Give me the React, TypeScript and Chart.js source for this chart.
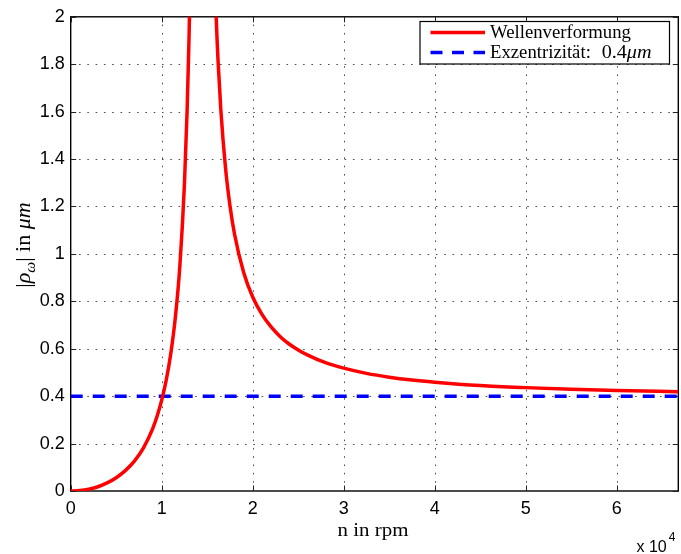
import React, { useEffect, useRef } from "react";
import { Chart, registerables } from "chart.js";

Chart.register(...registerables);

// ---- data ----
const nRpm: number[] = [
  0, 1000, 2000, 3000, 4000, 5000, 6000, 7000, 8000, 9000, 9500, 10000, 10500,
  11000, 11500, 12000, 12500, 12800, 13000, 13200, 13500, 13800, 14300, 14800,
  15200, 15600, 16000, 16200, 16500, 17000, 17500, 18000, 19000, 20000, 21000,
  22000, 23000, 24000, 25000, 26000, 28000, 30000, 32500, 35000, 37500, 40000,
  45000, 50000, 55000, 60000, 66770,
];
const rhoAmplitude: (number | null)[] = [
  0, 0.002, 0.008, 0.018, 0.034, 0.056, 0.086, 0.126, 0.182, 0.262, 0.316, 0.383,
  0.468, 0.58, 0.732, 0.952, 1.296, 1.612, 1.905, 2.304, 3.278, 5.42, null, 6.02,
  3.481, 2.504, 1.988, 1.81, 1.607, 1.368, 1.204, 1.084, 0.923, 0.818, 0.746,
  0.693, 0.652, 0.62, 0.595, 0.574, 0.541, 0.518, 0.496, 0.48, 0.468, 0.459,
  0.445, 0.436, 0.429, 0.424, 0.419,
];
const eccentricityX: number[] = [0, 66770];
const eccentricityY: number[] = [0.4, 0.4];

const xTickValues: number[] = [0, 10000, 20000, 30000, 40000, 50000, 60000];
const xTickLabels: string[] = ["0", "1", "2", "3", "4", "5", "6"];
const yTickValues: number[] = [0, 0.2, 0.4, 0.6, 0.8, 1, 1.2, 1.4, 1.6, 1.8, 2];
const yTickLabels: string[] = ["0", "0.2", "0.4", "0.6", "0.8", "1", "1.2", "1.4", "1.6", "1.8", "2"];

const legendLabels: string[] = ["Wellenverformung", "Exzentrizität:", "0.4", "μm"];
const xTitle = "n in rpm";
const xExponent = "4";

const SERIF = "'Liberation Serif', 'Times New Roman', serif";
const SANS = "'Liberation Sans', Arial, sans-serif";

type Part = { t: string; italic?: boolean; sub?: boolean };

function drawParts(
  ctx: CanvasRenderingContext2D,
  parts: Part[],
  size: number,
  x: number,
  y: number,
  measureOnly = false
): number {
  let cx = x;
  for (const p of parts) {
    const s = p.sub ? size * 0.7 : size;
    ctx.font = `${p.italic ? "italic " : ""}${s}px ${SERIF}`;
    const w = ctx.measureText(p.t).width;
    if (!measureOnly) ctx.fillText(p.t, cx, y + (p.sub ? size * 0.25 : 0));
    cx += w;
  }
  return cx - x;
}

function drawStretched(
  ctx: CanvasRenderingContext2D,
  parts: Part[],
  size: number,
  stretch: number,
  x: number,
  y: number
): number {
  ctx.save();
  ctx.translate(x, y);
  ctx.scale(stretch, 1);
  const w = drawParts(ctx, parts, size, 0, 0);
  ctx.restore();
  return w * stretch;
}

const framePlugin = {
  id: "matlabFrame",
  beforeDatasetsDraw(chart: any) {
    const { ctx, chartArea: a, scales } = chart;
    const x = scales.x;
    const y = scales.y;
    ctx.save();
    // dotted grid
    ctx.strokeStyle = "#4d4d4d";
    ctx.lineWidth = 1;
    ctx.setLineDash([1.6, 6.7]);
    for (const v of xTickValues) {
      const px = Math.round(x.getPixelForValue(v)) + 0.5;
      if (px <= a.left + 2 || px >= a.right - 2) continue;
      ctx.beginPath();
      ctx.moveTo(px, a.bottom);
      ctx.lineTo(px, a.top);
      ctx.stroke();
    }
    for (const v of yTickValues) {
      const py = Math.round(y.getPixelForValue(v)) + 0.5;
      if (py <= a.top + 2 || py >= a.bottom - 2) continue;
      ctx.beginPath();
      ctx.moveTo(a.left, py);
      ctx.lineTo(a.right, py);
      ctx.stroke();
    }
    ctx.setLineDash([]);
    // box
    ctx.strokeStyle = "#000";
    ctx.lineWidth = 1.4;
    ctx.strokeRect(a.left, a.top, a.right - a.left, a.bottom - a.top);
    // inward tick marks
    const tl = 5.5;
    ctx.lineWidth = 1;
    ctx.strokeStyle = "#222";
    for (const v of xTickValues) {
      const px = Math.round(x.getPixelForValue(v)) + 0.5;
      ctx.beginPath();
      ctx.moveTo(px, a.bottom);
      ctx.lineTo(px, a.bottom - tl);
      ctx.moveTo(px, a.top);
      ctx.lineTo(px, a.top + tl);
      ctx.stroke();
    }
    for (const v of yTickValues) {
      const py = Math.round(y.getPixelForValue(v)) + 0.5;
      ctx.beginPath();
      ctx.moveTo(a.left, py);
      ctx.lineTo(a.left + tl, py);
      ctx.moveTo(a.right, py);
      ctx.lineTo(a.right - tl, py);
      ctx.stroke();
    }
    ctx.restore();
  },
  afterDraw(chart: any) {
    const { ctx, chartArea: a } = chart;
    ctx.save();
    ctx.fillStyle = "#000";
    ctx.textBaseline = "alphabetic";
    ctx.textAlign = "left";

    // x-axis title
    {
      const parts: Part[] = [{ t: xTitle }];
      const size = 19;
      const stretch = 1.1;
      const w = drawParts(ctx, parts, size, 0, 0, true) * stretch;
      const cx = (a.left + a.right) / 2 - 1.5;
      drawStretched(ctx, parts, size, stretch, cx - w / 2, 535.5);
    }

    // y-axis title  |ρ_ω| in μm
    {
      const parts: Part[] = [
        { t: "|" },
        { t: "ρ", italic: true },
        { t: "ω", italic: true, sub: true },
        { t: "| in " },
        { t: "μm", italic: true },
      ];
      const size = 20;
      const stretch = 1.1;
      const w = drawParts(ctx, parts, size, 0, 0, true) * stretch;
      ctx.save();
      ctx.translate(30, 245 + w / 2);
      ctx.rotate(-Math.PI / 2);
      ctx.scale(stretch, 1);
      drawParts(ctx, parts, size, 0, 0);
      ctx.restore();
    }

    // x 10^4 exponent label
    ctx.font = `16px ${SANS}`;
    ctx.fillText("x 10", 636.5, 552);
    const w10 = ctx.measureText("x 10").width;
    ctx.font = `12px ${SANS}`;
    ctx.fillText(xExponent, 636.5 + w10 + 2, 540.5);

    // legend
    const bx = 420, by = 21.5, bw = 249.5, bh = 42.5;
    ctx.fillStyle = "#fff";
    ctx.fillRect(bx, by, bw, bh);
    ctx.strokeStyle = "#000";
    ctx.lineWidth = 1.2;
    ctx.strokeRect(bx, by, bw, bh);
    ctx.lineWidth = 3.5;
    ctx.strokeStyle = "#ff0000";
    ctx.beginPath();
    ctx.moveTo(430.5, 32.5);
    ctx.lineTo(485, 32.5);
    ctx.stroke();
    ctx.strokeStyle = "#0000ff";
    ctx.setLineDash([12, 9.5]);
    ctx.beginPath();
    ctx.moveTo(430.5, 52.5);
    ctx.lineTo(485, 52.5);
    ctx.stroke();
    ctx.setLineDash([]);
    ctx.fillStyle = "#000";
    const lSize = 18;
    const lStretch = 1.04;
    drawStretched(ctx, [{ t: legendLabels[0] }], lSize, lStretch, 490, 37.5);
    const w1 = drawStretched(ctx, [{ t: legendLabels[1] }], lSize, lStretch, 490, 57.5);
    drawStretched(
      ctx,
      [{ t: legendLabels[2] }, { t: legendLabels[3], italic: true }],
      lSize,
      1.12,
      490 + w1 + lSize * 0.6,
      57.5
    );

    ctx.restore();
  },
};

export default function App() {
  const canvasRef = useRef<HTMLCanvasElement | null>(null);

  useEffect(() => {
    if (!canvasRef.current) return;
    const chart = new Chart(canvasRef.current, {
      type: "line",
      data: {
        datasets: [
          {
            label: "Wellenverformung",
            data: nRpm.map((n, i) => ({ x: n, y: rhoAmplitude[i] })) as any,
            borderColor: "#ff0000",
            borderWidth: 3.5,
            pointRadius: 0,
            cubicInterpolationMode: "monotone",
            spanGaps: false,
            order: 0,
          },
          {
            label: "Exzentrizität: 0.4μm",
            data: eccentricityX.map((n, i) => ({ x: n, y: eccentricityY[i] })),
            borderColor: "#0000ff",
            borderWidth: 3.5,
            borderDash: [12, 10],
            pointRadius: 0,
            order: 1,
          },
        ],
      },
      options: {
        animation: false,
        responsive: false,
        devicePixelRatio: 1,
        layout: { padding: { left: 0, top: 11.7, right: 2.7, bottom: 0 } },
        plugins: {
          legend: { display: false },
          tooltip: { enabled: false },
        },
        scales: {
          x: {
            type: "linear",
            min: 0,
            max: 66770,
            grid: { display: false, drawTicks: false },
            border: { display: false },
            afterBuildTicks: (s: any) => {
              s.ticks = xTickValues.map((v) => ({ value: v }));
            },
            afterFit: (s: any) => {
              s.height = 554 - 491;
            },
            ticks: {
              padding: 7.5,
              color: "#000",
              font: { family: SANS, size: 18 },
              maxRotation: 0,
              autoSkip: false,
              callback: (v: any) => {
                const i = xTickValues.indexOf(Number(v));
                return i >= 0 ? xTickLabels[i] : "";
              },
            },
          },
          y: {
            type: "linear",
            min: 0,
            max: 2,
            grid: { display: false, drawTicks: false },
            border: { display: false },
            afterBuildTicks: (s: any) => {
              s.ticks = yTickValues.map((v) => ({ value: v }));
            },
            afterFit: (s: any) => {
              s.width = 70.7;
            },
            ticks: {
              padding: 6,
              color: "#000",
              font: { family: SANS, size: 18 },
              autoSkip: false,
              callback: (v: any) => {
                const i = yTickValues.findIndex((t) => Math.abs(t - Number(v)) < 1e-9);
                return i >= 0 ? yTickLabels[i] : "";
              },
            },
          },
        },
      },
      plugins: [framePlugin],
    });
    return () => chart.destroy();
  }, []);

  return (
    <div style={{ position: "absolute", left: 0, top: 0, width: 681, height: 554, background: "#fff" }}>
      <canvas ref={canvasRef} width={681} height={554} style={{ display: "block" }} />
    </div>
  );
}
